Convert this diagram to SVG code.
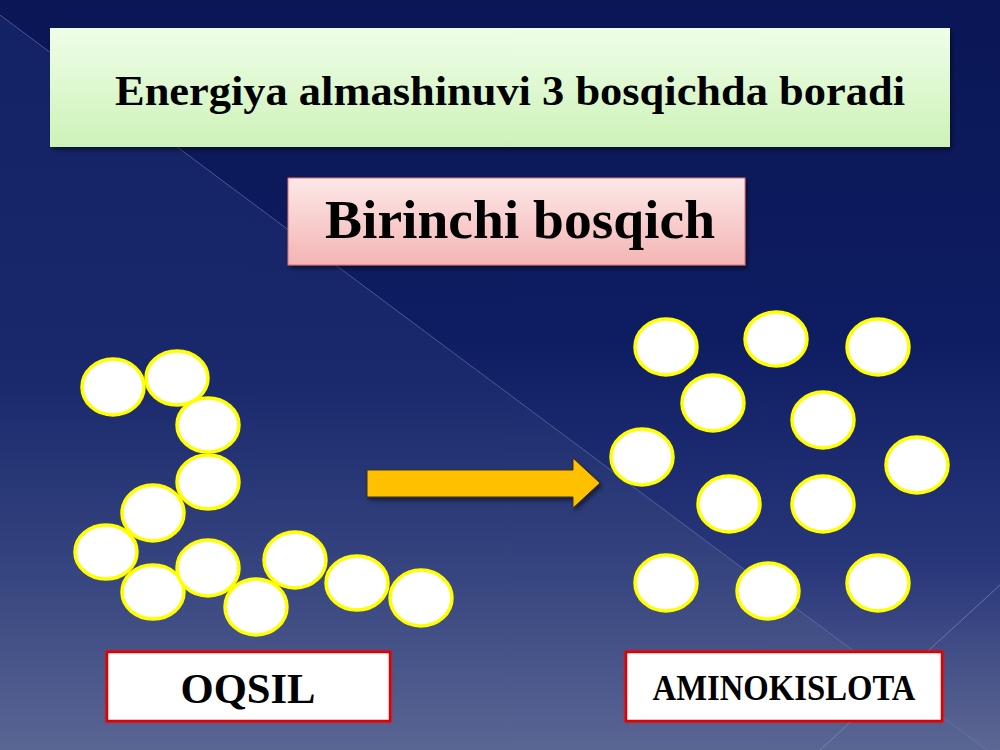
<svg xmlns="http://www.w3.org/2000/svg" width="1000" height="750" viewBox="0 0 1000 750">
<defs>
<linearGradient id="bg" x1="0" y1="0" x2="0" y2="1">
<stop offset="0" stop-color="#0a1655"/>
<stop offset="0.45" stop-color="#0e1d62"/>
<stop offset="0.75" stop-color="#28367a"/>
<stop offset="1" stop-color="#5e6894"/>
</linearGradient>
<linearGradient id="bgl" x1="0" y1="0" x2="0" y2="1">
<stop offset="0" stop-color="#16266a"/>
<stop offset="0.5" stop-color="#1c2c6e"/>
<stop offset="1" stop-color="#5a6694"/>
</linearGradient>
<linearGradient id="green" x1="0" y1="0" x2="0" y2="1">
<stop offset="0" stop-color="#effee8"/>
<stop offset="1" stop-color="#cdf2b8"/>
</linearGradient>
<linearGradient id="pink" x1="0" y1="0" x2="0" y2="1">
<stop offset="0" stop-color="#fde8e8"/>
<stop offset="1" stop-color="#f4b4b4"/>
</linearGradient>
<filter id="sh" x="-10%" y="-10%" width="130%" height="140%">
<feDropShadow dx="2" dy="3" stdDeviation="2" flood-color="#000" flood-opacity="0.5"/>
</filter>
<filter id="glow" x="-10%" y="-10%" width="120%" height="130%">
<feDropShadow dx="0" dy="0" stdDeviation="1.5" flood-color="#ff0000" flood-opacity="0.7"/>
</filter>
</defs>
<style>
.t{font-family:"Liberation Serif","Times New Roman",serif;font-weight:bold;fill:#000}
.c{fill:#ffffff;stroke:#ffff00;stroke-width:3.5}
.lbl{fill:#ffffff;stroke:#e00000;stroke-width:2.5}
</style>
<rect x="0" y="0" width="1000" height="750" fill="url(#bg)"/>
<polygon points="0,15 1000,760 0,760" fill="url(#bgl)" opacity="0.75"/>
<line x1="0" y1="15" x2="1000" y2="760" stroke="#6f7bb0" stroke-width="1" opacity="0.6"/>
<line x1="820" y1="750" x2="1000" y2="585" stroke="#8a94c0" stroke-width="1" opacity="0.6"/>

<g id="title">
<rect x="50" y="28" width="900" height="119" fill="url(#green)" filter="url(#sh)"/>
<text class="t" x="115" y="105" font-size="42" textLength="790" lengthAdjust="spacingAndGlyphs">Energiya almashinuvi 3 bosqichda boradi</text>
</g>
<g id="stage">
<rect x="288" y="178" width="457" height="87" fill="url(#pink)" stroke="#e07070" stroke-width="1" filter="url(#sh)"/>
<text class="t" x="325" y="238" font-size="55" textLength="390" lengthAdjust="spacingAndGlyphs">Birinchi bosqich</text>
</g>

<g id="protein">
<ellipse class="c" cx="113" cy="387" rx="31" ry="28"/>
<ellipse class="c" cx="177" cy="378" rx="31" ry="27"/>
<ellipse class="c" cx="208" cy="425" rx="31" ry="27"/>
<ellipse class="c" cx="208" cy="482" rx="31" ry="27"/>
<ellipse class="c" cx="153" cy="513" rx="31" ry="28"/>
<ellipse class="c" cx="106" cy="552" rx="31" ry="27"/>
<ellipse class="c" cx="153" cy="592" rx="31" ry="27"/>
<ellipse class="c" cx="208" cy="568" rx="31" ry="28"/>
<ellipse class="c" cx="256" cy="607" rx="31" ry="28"/>
<ellipse class="c" cx="295" cy="560" rx="31" ry="28"/>
<ellipse class="c" cx="357" cy="583" rx="31" ry="27"/>
<ellipse class="c" cx="421" cy="598" rx="31" ry="28"/>
</g>

<g id="connectors">
<polygon points="367,470 573,470 573,458 600,483 573,508 573,497 367,497" fill="#ffc000" stroke="#3a3010" stroke-width="1" filter="url(#sh)"/>
</g>

<g id="aminoacids">
<ellipse class="c" cx="666" cy="347" rx="31" ry="28"/>
<ellipse class="c" cx="776" cy="339" rx="31" ry="27"/>
<ellipse class="c" cx="878" cy="347" rx="31" ry="28"/>
<ellipse class="c" cx="713" cy="403" rx="31" ry="28"/>
<ellipse class="c" cx="823" cy="420" rx="31" ry="28"/>
<ellipse class="c" cx="642" cy="457" rx="31" ry="28"/>
<ellipse class="c" cx="917" cy="465" rx="31" ry="28"/>
<ellipse class="c" cx="729" cy="504" rx="31" ry="28"/>
<ellipse class="c" cx="823" cy="504" rx="31" ry="28"/>
<ellipse class="c" cx="666" cy="583" rx="31" ry="28"/>
<ellipse class="c" cx="768" cy="591" rx="31" ry="28"/>
<ellipse class="c" cx="878" cy="583" rx="31" ry="28"/>
</g>

<g id="oqsil">
<rect class="lbl" x="107" y="652" width="283" height="69" filter="url(#glow)"/>
<text class="t" x="248" y="703" font-size="43" text-anchor="middle" textLength="135" lengthAdjust="spacingAndGlyphs">OQSIL</text>
</g>
<g id="aminokislota">
<rect class="lbl" x="626" y="652" width="316" height="69" filter="url(#glow)"/>
<text class="t" x="784" y="700" font-size="35" text-anchor="middle" textLength="263" lengthAdjust="spacingAndGlyphs">AMINOKISLOTA</text>
</g>
</svg>
